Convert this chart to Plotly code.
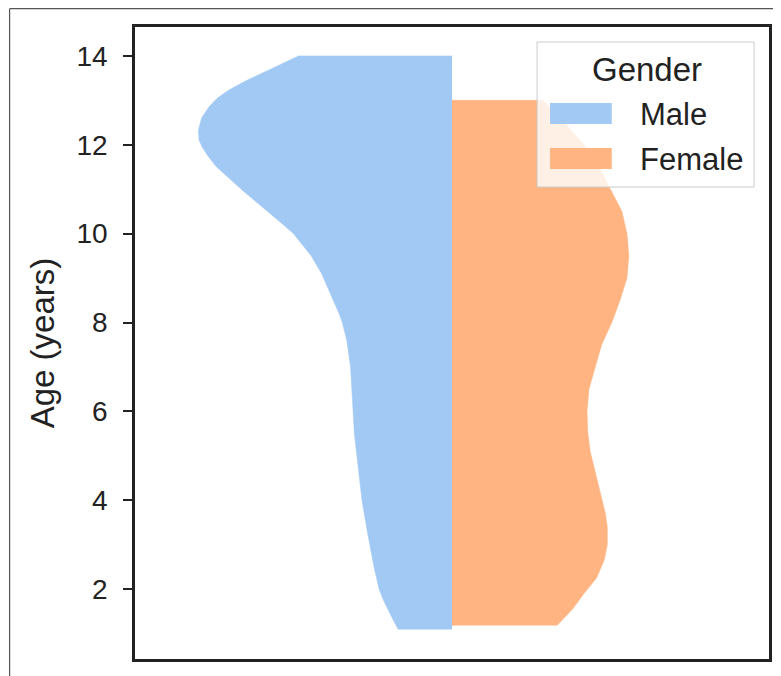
import plotly.graph_objects as go

# ---- data (split violin profile: age vs half-width) ----
male_age = [1.10, 1.40, 1.75, 2.00, 2.50, 3.25, 4.00, 4.75, 5.50, 6.25, 7.00, 7.60,
            8.00, 8.20, 8.50, 8.80, 9.11, 9.50, 9.86, 10.00, 10.20, 10.47, 10.72,
            10.98, 11.25, 11.51, 11.75, 11.95, 12.10, 12.33, 12.60, 12.86, 13.05,
            13.23, 13.42, 13.61, 13.80, 14.00]
male_width = [0.085, 0.096, 0.108, 0.115, 0.123, 0.133, 0.142, 0.148, 0.154, 0.157,
              0.160, 0.166, 0.173, 0.178, 0.187, 0.196, 0.206, 0.222, 0.242, 0.250,
              0.266, 0.289, 0.310, 0.331, 0.352, 0.372, 0.385, 0.394, 0.399, 0.400,
              0.395, 0.383, 0.370, 0.352, 0.328, 0.300, 0.270, 0.242]

female_age = [1.19, 1.55, 1.90, 2.25, 2.65, 3.00, 3.40, 3.70, 4.00, 4.60, 5.10, 5.55,
              6.00, 6.50, 7.00, 7.50, 8.00, 8.50, 9.00, 9.50, 10.00, 10.50, 11.00,
              11.50, 12.00, 12.35, 12.70, 13.00]
female_width = [0.166, 0.190, 0.208, 0.228, 0.240, 0.245, 0.245, 0.242, 0.237, 0.226,
                0.218, 0.214, 0.213, 0.216, 0.226, 0.236, 0.252, 0.265, 0.276, 0.279,
                0.276, 0.268, 0.250, 0.232, 0.208, 0.187, 0.165, 0.143]

groups = ["Male", "Female"]
colors = {"Male": "#a1c9f4", "Female": "#ffb482"}
y_ticks = [2, 4, 6, 8, 10, 12, 14]
y_title = "Age (years)"
legend_title = "Gender"

FONT = "Liberation Sans, Arial, sans-serif"
INK = "#222222"

fig = go.Figure()

# Male half (left side)
mx = [0] + [-w for w in male_width] + [0]
my = [male_age[0]] + male_age + [male_age[-1]]
fig.add_trace(go.Scatter(x=mx, y=my, mode="lines", fill="toself",
                         fillcolor=colors["Male"],
                         line=dict(color=colors["Male"], width=0.5),
                         name="Male", showlegend=False, hoverinfo="skip"))

# Female half (right side)
fx = [0] + list(female_width) + [0]
fy = [female_age[0]] + female_age + [female_age[-1]]
fig.add_trace(go.Scatter(x=fx, y=fy, mode="lines", fill="toself",
                         fillcolor=colors["Female"],
                         line=dict(color=colors["Female"], width=0.5),
                         name="Female", showlegend=False, hoverinfo="skip"))

# page geometry (the page body has an 8px margin)
OFF = 8
PW, PH = 781, 676
W, H = PW - OFF, PH - OFF
L, R, T, B = 135 - OFF, 772 - OFF, 27 - OFF, 659 - OFF

def px(x):  # page pixel x -> paper
    return (x - OFF - L) / (R - L)

def py(y):  # page pixel y -> paper
    return (B - (y - OFF)) / (B - T)

shapes = []
# outer thin border of the picture (left + top)
shapes.append(dict(type="line", xref="paper", yref="paper",
                   x0=px(9), x1=px(9), y0=py(8.7), y1=py(PH + 10),
                   line=dict(color="#555555", width=1.2), layer="above"))
shapes.append(dict(type="line", xref="paper", yref="paper",
                   x0=px(9), x1=px(PW + 10), y0=py(8.7), y1=py(8.7),
                   line=dict(color="#555555", width=1.2), layer="above"))
# legend box
shapes.append(dict(type="rect", xref="paper", yref="paper",
                   x0=px(539), x1=px(757), y0=py(187), y1=py(42),
                   fillcolor="rgba(255,255,255,0.8)",
                   line=dict(color="#cccccc", width=1), layer="above"))
annotations = [dict(text=legend_title, xref="paper", yref="paper",
                    x=px(649), y=py(69), xanchor="center", yanchor="middle",
                    showarrow=False, font=dict(family=FONT, size=33, color=INK))]
patch_y = {"Male": (103, 124), "Female": (148, 169)}
for g in groups:
    y0, y1 = patch_y[g]
    shapes.append(dict(type="rect", xref="paper", yref="paper",
                       x0=px(552), x1=px(614), y0=py(y1), y1=py(y0),
                       fillcolor=colors[g], line=dict(width=0), layer="above"))
    annotations.append(dict(text=g, xref="paper", yref="paper",
                            x=px(640), y=py((y0 + y1) / 2 + 1),
                            xanchor="left", yanchor="middle", showarrow=False,
                            font=dict(family=FONT, size=31, color=INK)))

fig.update_layout(
    width=W, height=H,
    margin=dict(l=L, r=W - R, t=T, b=H - B, pad=0),
    paper_bgcolor="white", plot_bgcolor="white",
    font=dict(family=FONT, color=INK),
    shapes=shapes, annotations=annotations,
    showlegend=False,
)
fig.update_xaxes(range=[-0.5, 0.5], showticklabels=False, ticks="",
                 showgrid=False, zeroline=False,
                 showline=True, mirror=True, linecolor=INK, linewidth=2.5)
fig.update_yaxes(range=[0.43, 14.65], tickvals=y_ticks,
                 ticktext=[str(v) for v in y_ticks],
                 ticks="outside", ticklen=9, tickwidth=2, tickcolor=INK,
                 ticklabelstandoff=10,
                 tickfont=dict(family=FONT, size=28, color=INK),
                 title=dict(text=y_title, standoff=12,
                            font=dict(family=FONT, size=33, color=INK)),
                 showgrid=False, zeroline=False,
                 showline=True, mirror=True, linecolor=INK, linewidth=2.5)

fig.write_html("out.html")
